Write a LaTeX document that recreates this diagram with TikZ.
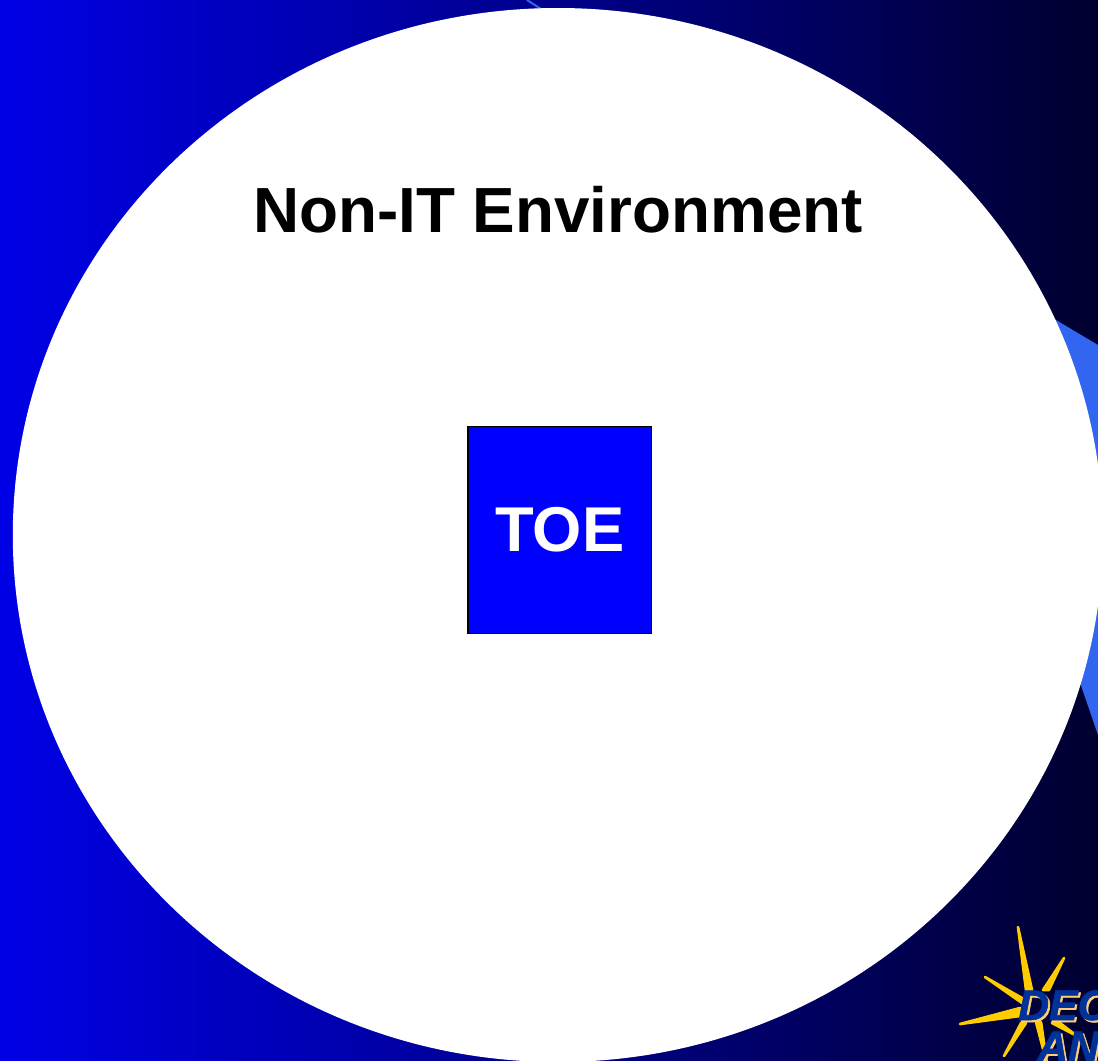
\documentclass[tikz,border=0pt]{standalone}
\usepackage{fontspec}
\setmainfont{Liberation Sans}
\newfontfamily\logofont[Extension=.ttf,FakeBold=1.5]{LiberationSans-BoldItalic}
\definecolor{bgleft}{RGB}{0,0,230}
\definecolor{bgright}{RGB}{0,0,48}
\definecolor{wedge}{RGB}{51,102,240}
\definecolor{tblue}{RGB}{0,0,255}
\definecolor{star}{RGB}{255,204,0}
\definecolor{logo}{RGB}{0,51,153}
\definecolor{logoedge}{RGB}{255,204,120}
\tikzset{
  ray/.style={fill=star,draw=star,line width=2pt,line join=round},
  logotext/.style={font=\fontsize{32}{32}\selectfont\logofont,text=logo,inner sep=0pt,anchor=base west},
  logoshadow/.style={font=\fontsize{32}{32}\selectfont\logofont,text=logoedge,inner sep=0pt,anchor=base west},
}
\begin{document}
\begin{tikzpicture}[x=0.75pt,y=-0.75pt]
\useasboundingbox (0,0) rectangle (1098,1060);
\clip (0,0) rectangle (1098,1060);
\shade[left color=bgleft,right color=bgright,shading angle=90] (0,0) rectangle (1098,1060);
\fill[wedge] (1040,310.5) -- (1098,345) -- (1098,735) -- (1075,668) -- cycle;
\draw[wedge,line width=1.5pt] (527,0) -- (541,9);
\fill[white] (557.8,535) ellipse [x radius=545,y radius=527];
\node[font=\fontsize{47.85}{48}\selectfont\bfseries,inner sep=0pt,text=black] (title) at (558,210) {Non-IT Environment};
\node[draw=black,line width=0.9pt,fill=tblue,minimum width=137.5pt,minimum height=155.5pt,inner sep=0pt,font=\fontsize{47.5}{48}\selectfont\bfseries,text=white] (toe) at (559.7,530) {TOE};
% logo star
\fill[ray] (1018,927) -- (1032,990) -- (1026,990) -- cycle;
\fill[ray] (1064,958) -- (1049,990) -- (1043,990) -- cycle;
\fill[ray] (985,977) -- (1022,998) -- (1022,1003) -- cycle;
\fill[ray] (960,1024) -- (1020,1008) -- (1020,1016) -- cycle;
\fill[ray] (1004,1056) -- (1021,1023) -- (1026,1023) -- cycle;
\fill[ray] (1036,1022) -- (1041,1022) -- (1047,1064) -- cycle;
\fill[ray] (1052,1023) -- (1056,1020) -- (1077,1036) -- cycle;
\node[logoshadow] (d2) at (1020,1022) {DEC};
\node[logoshadow] (a2) at (1039,1063) {AN};
\node[logotext] (d1) at (1018,1020) {DEC};
\node[logotext] (a1) at (1037,1061) {AN};
\end{tikzpicture}
\end{document}
